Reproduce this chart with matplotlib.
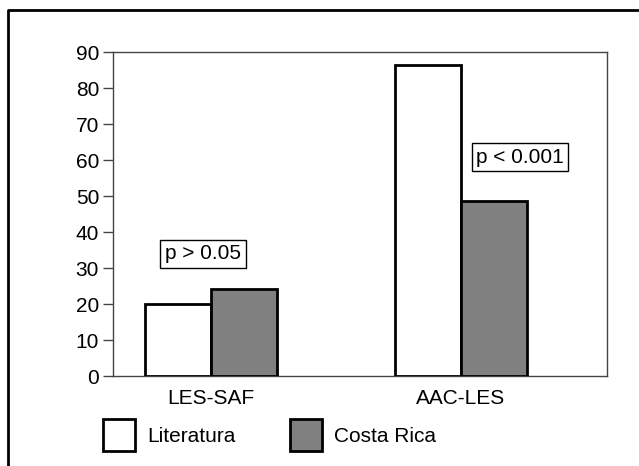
import numpy as np
import matplotlib.pyplot as plt
from matplotlib.patches import Patch
from matplotlib.lines import Line2D

plt.rcParams['font.family'] = ['Liberation Sans', 'DejaVu Sans']

# data
categories = ['LES-SAF', 'AAC-LES']
literatura = [20, 86.5]
costa_rica = [24.2, 48.5]
p_labels = ['p > 0.05', 'p < 0.001']
p_pos = [(-0.032, 33.9), (1.236, 60.8)]

fs = 15
fig = plt.figure(figsize=(6.39, 4.66), dpi=100)
ax = fig.add_axes([113/639, 1-376/466, 494/639, 324/466])

x = np.arange(len(categories))
w = 0.264
ax.bar(x - w/2, literatura, w, color='white', edgecolor='black', linewidth=2, zorder=3)
ax.bar(x + w/2, costa_rica, w, color='#808080', edgecolor='black', linewidth=2, zorder=3)

ax.set_xlim(-0.392, 1.584)
ax.set_ylim(0, 90)
ax.set_yticks(range(0, 91, 10))
ax.set_xticks(x)
ax.set_xticklabels(categories)
ax.tick_params(axis='x', length=0, pad=9, labelsize=fs)
ax.tick_params(axis='y', length=7, width=1, color='#444444', pad=3, labelsize=fs)
for s in ax.spines.values():
    s.set_color('#444444')
    s.set_linewidth(1)

for lab, (px, py) in zip(p_labels, p_pos):
    ax.text(px, py, lab, ha='center', va='center', fontsize=fs,
            bbox=dict(boxstyle='square,pad=0.22', facecolor='white',
                      edgecolor='black', linewidth=1), zorder=4)

handles = [Patch(facecolor='white', edgecolor='black', linewidth=2),
           Patch(facecolor='#808080', edgecolor='black', linewidth=2)]
fig.legend(handles, ['Literatura', 'Costa Rica'], loc='center left',
           bbox_to_anchor=(103/639, 1-435/466), ncol=2, frameon=False,
           fontsize=fs, handlelength=1.54, handleheight=1.96,
           handletextpad=0.58, columnspacing=2.6, borderpad=0, borderaxespad=0)

# outer frame (top and left only)
fig.add_artist(Line2D([8/639, 8/639, 1.0], [0.0, 1-10/466, 1-10/466],
                      transform=fig.transFigure, color='black', linewidth=2))

fig.savefig('out.png', dpi=100)
